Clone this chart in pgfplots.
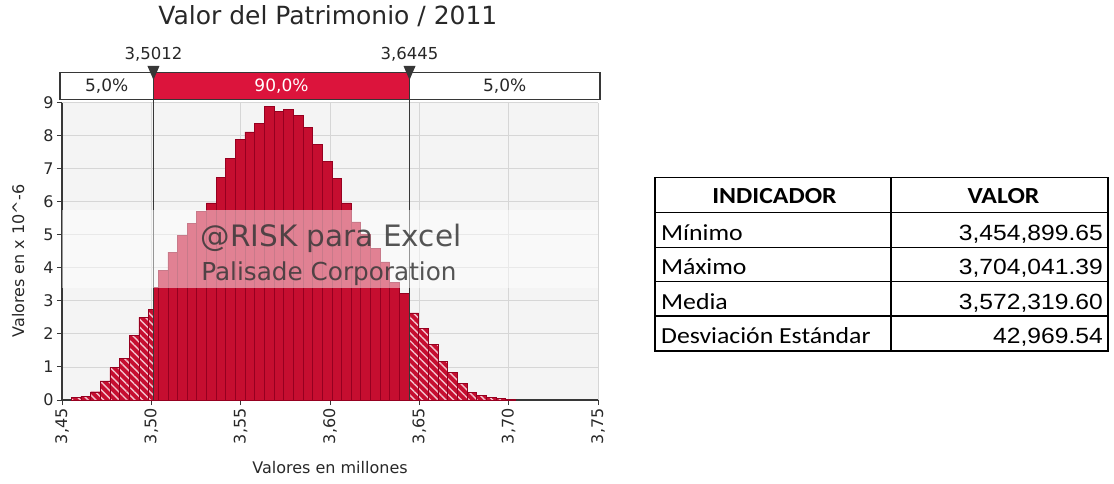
\documentclass[border=0pt]{standalone}
\usepackage{pgfplots}
\pgfplotsset{compat=1.18}
\usepackage{pgfplotstable}
\usepackage{fontspec}
\setmainfont{DejaVu Sans}
\newfontfamily\calibri[FakeStretch=1.12]{Carlito}
\newfontfamily\arialf[FakeStretch=1.12]{Liberation Sans}
\usetikzlibrary{patterns,patterns.meta}

\definecolor{barred}{RGB}{198,14,48}
\definecolor{bardark}{RGB}{150,0,32}
\definecolor{boxred}{RGB}{220,20,60}
\definecolor{plotbg}{RGB}{244,244,244}
\definecolor{gridc}{RGB}{214,214,214}
\definecolor{axc}{RGB}{55,55,55}
\definecolor{txt}{RGB}{40,40,40}
\definecolor{hatchc}{RGB}{242,195,205}

% left tail (below 3.5012): left edge, density
\pgfplotstableread{
x h
3.4552 0.07
3.4606 0.12
3.4660 0.25
3.4714 0.58
3.4768 0.98
3.4822 1.27
3.4876 1.96
3.4930 2.50
3.4984 2.74
3.5012 0
}\tailL
% central 90%
\pgfplotstableread{
x h
3.5012 3.40
3.5038 3.93
3.5092 4.48
3.5146 4.98
3.5200 5.34
3.5254 5.72
3.5308 5.97
3.5362 6.75
3.5416 7.32
3.5470 7.90
3.5524 8.12
3.5578 8.38
3.5632 8.90
3.5686 8.74
3.5740 8.80
3.5794 8.62
3.5848 8.26
3.5902 7.74
3.5956 7.22
3.6010 6.72
3.6064 5.97
3.6118 5.39
3.6172 5.03
3.6226 4.58
3.6280 4.18
3.6334 3.56
3.6388 3.22
3.6445 0
}\bodyM
% right tail (above 3.6445)
\pgfplotstableread{
x h
3.6445 2.64
3.6496 2.16
3.6550 1.68
3.6604 1.17
3.6658 0.83
3.6712 0.50
3.6766 0.24
3.6820 0.15
3.6874 0.09
3.6928 0.05
3.6982 0.03
3.7036 0
}\tailR

\newcommand\fs[1]{\fontsize{#1}{#1}\selectfont}

\begin{document}
\begin{tikzpicture}
\useasboundingbox (0,0) rectangle (1114pt,483pt);
\begin{axis}[
  at={(62pt,83pt)}, anchor=south west,
  scale only axis, width=536pt, height=297.3pt,
  xmin=3.45, xmax=3.75, ymin=0, ymax=9,
  clip=false,
  axis lines=left, axis line style={-, draw=axc, line width=1.2pt},
  axis background/.style={fill=plotbg},
  grid=major, major grid style={draw=gridc, line width=0.9pt},
  tick align=outside, major tick length=5pt,
  tick style={draw=axc, line width=1pt},
  xtick={3.45,3.50,3.55,3.60,3.65,3.70,3.75},
  xticklabels={{3,45},{3,50},{3,55},{3,60},{3,65},{3,70},{3,75}},
  ytick={0,1,2,3,4,5,6,7,8,9},
  yticklabels={0,1,2,3,4,5,6,7,8,9},
  ticklabel style={font=\fs{16}, text=txt},
  xticklabel style={rotate=90, anchor=east},
  xlabel={Valores en millones},
  xlabel style={at={(axis description cs:0.5,-0.2287)}, anchor=center, font=\fs{16}, text=txt},
  ylabel={Valores en x 10\textasciicircum-6},
  ylabel style={at={(axis description cs:-0.082,0.4675)}, anchor=center, rotate=0, font=\fs{16}, text=txt},
  title={Valor del Patrimonio / 2011},
  title style={at={(axis description cs:0.496,1.271)}, anchor=center, font=\fs{25}, text=txt},
]
% bars
\addplot[ybar interval, fill=barred, draw=none] table[x=x,y=h] {\tailL};
\addplot[ybar interval, draw=bardark, line width=0.4pt,
  pattern={Lines[angle=-45,distance=5.5pt,line width=1.4pt]}, pattern color=hatchc] table[x=x,y=h] {\tailL};
\addplot[ybar interval, fill=barred, draw=bardark, line width=0.5pt] table[x=x,y=h] {\bodyM};
\addplot[ybar interval, fill=barred, draw=none] table[x=x,y=h] {\tailR};
\addplot[ybar interval, draw=bardark, line width=0.4pt,
  pattern={Lines[angle=-45,distance=5.5pt,line width=1.4pt]}, pattern color=hatchc] table[x=x,y=h] {\tailR};

% delimiter lines
\draw[axc, line width=1.5pt] (axis cs:3.5012,0) -- (axis cs:3.5012,9.104);
\draw[axc, line width=1.5pt] (axis cs:3.6445,0) -- (axis cs:3.6445,9.104);

% watermark band
\fill[white, opacity=0.48] (axis cs:3.45,3.38) rectangle (axis cs:3.75,5.76);
\node[anchor=base, text=black!78, opacity=0.85, font=\fs{29.5}] at (axis cs:3.6006,4.66) {@RISK para Excel};
\node[anchor=base, text=black!78, opacity=0.85, font=\fs{24.7}] at (axis cs:3.5994,3.63) {Palisade Corporation};

% percentile box
\fill[white] (axis cs:3.4489,9.104) rectangle (axis cs:3.7511,9.909);
\fill[boxred] (axis cs:3.5012,9.104) rectangle (axis cs:3.6445,9.909);
\draw[axc, line width=1.2pt] (axis cs:3.4489,9.104) rectangle (axis cs:3.7511,9.909);
\draw[axc, line width=1.2pt] (axis cs:3.5012,9.104) -- (axis cs:3.5012,9.909);
\draw[axc, line width=1.2pt] (axis cs:3.6445,9.104) -- (axis cs:3.6445,9.909);
\node[font=\fs{17}, text=txt] at (axis cs:3.47505,9.5065) {5,0\%};
\node[font=\fs{17}, text=white] at (axis cs:3.57285,9.5065) {90,0\%};
\node[font=\fs{17}, text=txt] at (axis cs:3.6978,9.5065) {5,0\%};
% markers
\fill[axc] (axis cs:3.49784,10.112) -- (axis cs:3.50456,10.112) -- (axis cs:3.5012,9.69) -- cycle;
\fill[axc] (axis cs:3.64114,10.112) -- (axis cs:3.64786,10.112) -- (axis cs:3.6445,9.69) -- cycle;
\node[anchor=base, font=\fs{16.5}, text=txt] at (axis cs:3.5012,10.294) {3,5012};
\node[anchor=base, font=\fs{16.5}, text=txt] at (axis cs:3.6445,10.294) {3,6445};
\end{axis}

% statistics table
\begin{scope}[line width=1.3pt]
\draw (655pt,305.7pt) rectangle (1108pt,132pt);
\draw (891pt,305.7pt) -- (891pt,132pt);
\draw (655pt,270.7pt) -- (1108pt,270.7pt);
\draw (655pt,235.7pt) -- (1108pt,235.7pt);
\draw (655pt,201.3pt) -- (1108pt,201.3pt);
\draw (655pt,167pt) -- (1108pt,167pt);
\end{scope}
\node[anchor=base, font=\calibri\bfseries\fs{23}] at (774.5pt,279.5pt) {INDICADOR};
\node[anchor=base, font=\calibri\bfseries\fs{23}] at (1003.5pt,279.5pt) {VALOR};
\node[anchor=base west, inner sep=0pt, font=\calibri\fs{23}] at (661pt,243pt) {Mínimo};
\node[anchor=base west, inner sep=0pt, font=\calibri\fs{23}] at (661pt,208.5pt) {Máximo};
\node[anchor=base west, inner sep=0pt, font=\calibri\fs{23}] at (661pt,174pt) {Media};
\node[anchor=base west, inner sep=0pt, font=\calibri\fs{23}] at (661pt,139.5pt) {Desviación Estándar};
\node[anchor=base east, inner sep=0pt, font=\arialf\fs{22}] at (1103pt,243pt) {3,454,899.65};
\node[anchor=base east, inner sep=0pt, font=\arialf\fs{22}] at (1103pt,208.5pt) {3,704,041.39};
\node[anchor=base east, inner sep=0pt, font=\arialf\fs{22}] at (1103pt,174pt) {3,572,319.60};
\node[anchor=base east, inner sep=0pt, font=\arialf\fs{22}] at (1103pt,139.5pt) {42,969.54};
\end{tikzpicture}
\end{document}
